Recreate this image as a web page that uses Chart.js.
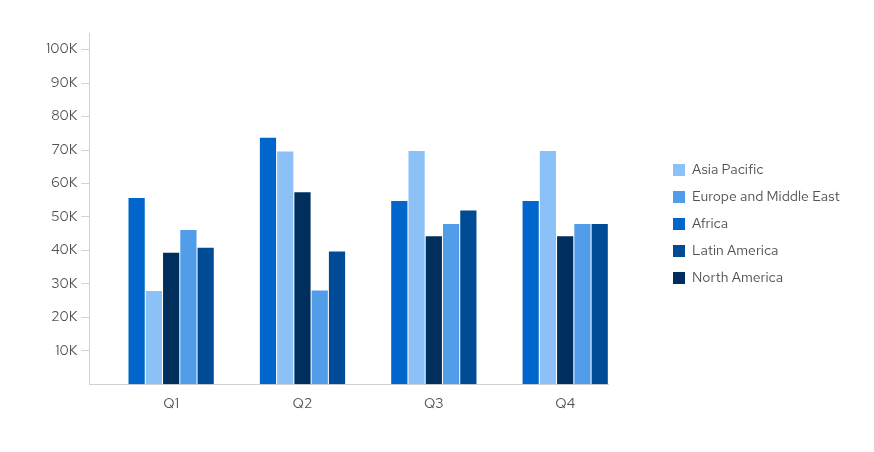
<!DOCTYPE html>
<html>
<head>
<meta charset="utf-8">
<script src="https://cdn.jsdelivr.net/npm/chart.js@4.4.1/dist/chart.umd.min.js"></script>
<style>
  html, body { margin: 0; padding: 0; background: #fff; }
  #wrap { width: 874px; height: 452px; }
</style>
</head>
<body>
<div id="wrap"><canvas id="salesChart"></canvas></div>
<script>
// --- Data ---
const quarters = ['Q1', 'Q2', 'Q3', 'Q4'];
const africa = [55700, 73700, 54800, 54800];
const asiaPacific = [27900, 69600, 69700, 69700];
const northAmerica = [39300, 57400, 44200, 44200];
const europeMiddleEast = [46100, 28000, 47900, 47900];
const latinAmerica = [40800, 39700, 51900, 47900];
const yTicks = [10000, 20000, 30000, 40000, 50000, 60000, 70000, 80000, 90000, 100000];
const legendOrder = ['Asia Pacific', 'Europe and Middle East', 'Africa', 'Latin America', 'North America'];

const textColor = '#4f5255';
const axisColor = '#d2d2d2';
Chart.defaults.font.family = '"Red Hat Text", "Noto Sans", "Liberation Sans", sans-serif';
Chart.defaults.font.size = 14;
Chart.defaults.color = textColor;

// quarter index -> {x, y} so the bars sit on a linear x scale
function points(values) {
  return values.map((v, i) => ({ x: i, y: v }));
}

// legend sits in a fixed-width column to the right, labels pushed inward
const legendWidth = 266;
const legendShiftX = 52;
const legendShiftY = -5;
const legendColumn = {
  id: 'legendColumn',
  beforeInit(chart) {
    const fit = chart.legend.fit;
    chart.legend.fit = function () {
      fit.call(this);
      this.width = legendWidth;
    };
  },
  afterLayout(chart) {
    const lg = chart.legend;
    lg.left += legendShiftX;
    lg.right += legendShiftX;
    lg.top += legendShiftY;
    lg.bottom += legendShiftY;
  }
};

new Chart(document.getElementById('salesChart'), {
  type: 'bar',
  data: {
    datasets: [
      { label: 'Africa', data: points(africa), backgroundColor: '#0066cc' },
      { label: 'Asia Pacific', data: points(asiaPacific), backgroundColor: '#8bc1f7' },
      { label: 'North America', data: points(northAmerica), backgroundColor: '#002f5d' },
      { label: 'Europe and Middle East', data: points(europeMiddleEast), backgroundColor: '#519de9' },
      { label: 'Latin America', data: points(latinAmerica), backgroundColor: '#004b95' }
    ]
  },
  options: {
    responsive: true,
    maintainAspectRatio: false,
    animation: false,
    categoryPercentage: 0.657,
    barPercentage: 0.94,
    layout: { padding: { top: 33, left: 42, bottom: 27, right: 0 } },
    scales: {
      x: {
        type: 'linear',
        offset: false,
        min: -0.623,
        max: 3.326,
        afterBuildTicks: axis => { axis.ticks = quarters.map((q, i) => ({ value: i })); },
        ticks: {
          autoSkip: false,
          maxRotation: 0,
          padding: 12,
          color: textColor,
          callback: v => quarters[v]
        },
        grid: { display: false, drawTicks: false },
        border: { display: true, color: axisColor, width: 1 }
      },
      y: {
        min: 0,
        max: 105000,
        afterBuildTicks: axis => { axis.ticks = yTicks.map(v => ({ value: v })); },
        ticks: {
          padding: 4,
          color: textColor,
          callback: v => (v / 1000) + 'K'
        },
        grid: { drawOnChartArea: false, drawTicks: true, tickLength: 8, color: axisColor },
        border: { display: true, color: axisColor, width: 1 }
      }
    },
    plugins: {
      legend: {
        position: 'right',
        align: 'center',
        labels: {
          boxWidth: 12,
          boxHeight: 12,
          padding: 13,
          color: textColor,
          sort: (a, b) => legendOrder.indexOf(a.text) - legendOrder.indexOf(b.text)
        }
      },
      tooltip: { enabled: false }
    }
  },
  plugins: [legendColumn]
});
</script>
</body>
</html>
